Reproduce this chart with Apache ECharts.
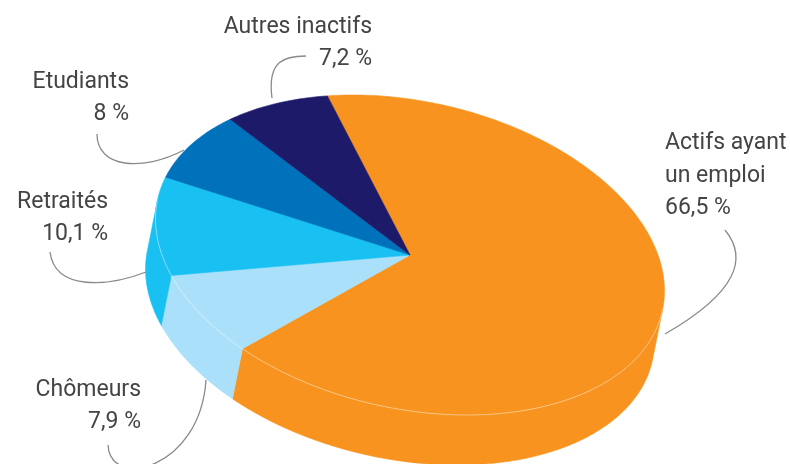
<!DOCTYPE html>
<html>
<head>
<meta charset="utf-8">
<script src="https://cdn.jsdelivr.net/npm/echarts@6/dist/echarts.min.js"></script>
<style>
  html, body { margin: 0; background: #fff; }
  #chart { width: 790px; height: 464px; }
</style>
</head>
<body>
<div id="chart"></div>
<script>
const categories = ['Actifs ayant\nun emploi', 'Chômeurs', 'Retraités', 'Etudiants', 'Autres inactifs']
const shares = [66.5, 7.9, 10.1, 8, 7.2]
const colors = ['#f7931e', '#aae0f9', '#19c1f2', '#0072bb', '#1e1a6a']

// where each label block sits (centre of the block) and how it is aligned
const labelPos = [
  { x: 665, y: 176, align: 'left' },
  { x: 141, y: 406, align: 'right' },
  { x: 108, y: 218, align: 'right' },
  { x: 129, y: 98, align: 'right' },
  { x: 372, y: 43, align: 'right' },
]
// leader curves: [x1, y1, cpx1, cpy1, cpx2, cpy2, x2, y2]
const leaders = [
  [725, 230, 748, 258, 738, 292, 665, 334],
  [206, 380, 200, 470, 110, 490, 108, 445],
  [50, 252, 55, 292, 110, 286, 146, 272],
  [97, 134, 97, 168, 142, 172, 184, 150],
  [272, 98, 267, 60, 285, 56, 306, 56],
]

// tilted disc geometry
const G = { cx: 410, cy: 255, a: 248, b: 57, c: 160, dx: -10, dy: 50, start: -96 }
const rad = d => d * Math.PI / 180

function pt(t, low) {
  const r = rad(t)
  return [
    G.cx + G.a * Math.cos(r) + G.b * Math.sin(r) + (low ? G.dx : 0),
    G.cy + G.c * Math.sin(r) + (low ? G.dy : 0),
  ]
}
function arc(t0, t1, low) {
  const out = []
  const n = Math.max(2, Math.ceil(Math.abs(t1 - t0)))
  for (let i = 0; i <= n; i++) out.push(pt(t0 + (t1 - t0) * i / n, low))
  return out
}

const total = shares.reduce((s, v) => s + v, 0)
const spans = []
let acc = G.start
shares.forEach(v => {
  const w = v / total * 360
  spans.push([acc, acc + w])
  acc += w
})

// front (visible) side of the wall
const tFront = Math.atan((G.b * G.dy - G.c * G.dx) / (G.a * G.dy)) * 180 / Math.PI
function frontPart(s, e) {
  for (const off of [0, 360, -360]) {
    const lo = Math.max(s, tFront + off), hi = Math.min(e, tFront + 180 + off)
    if (hi > lo) return [lo, hi]
  }
  return null
}

const fmt = v => String(v).replace('.', ',') + ' %'
const data = shares.map((v, i) => [i, v])

function renderWall(params, api) {
  const i = api.value(0)
  const f = frontPart(spans[i][0], spans[i][1])
  if (!f) return
  const pts = arc(f[0], f[1], false).concat(arc(f[1], f[0], true))
  return {
    type: 'polygon',
    shape: { points: pts },
    style: { fill: colors[i], stroke: colors[i], lineWidth: 0.6 },
  }
}

function renderTop(params, api) {
  const i = api.value(0)
  const [s, e] = spans[i]
  const children = [{
    type: 'polygon',
    shape: { points: [[G.cx, G.cy]].concat(arc(s, e, false)) },
    style: { fill: colors[i], stroke: colors[i], lineWidth: 0.6 },
  }]
  const f = frontPart(s, e)
  if (f) {
    children.push({
      type: 'polyline',
      shape: { points: arc(f[0], f[1], false) },
      style: { stroke: 'rgba(255,255,255,0.55)', lineWidth: 0.8, fill: null },
    })
  }
  const L = leaders[i]
  children.push({
    type: 'bezierCurve',
    shape: { x1: L[0], y1: L[1], cpx1: L[2], cpy1: L[3], cpx2: L[4], cpy2: L[5], x2: L[6], y2: L[7] },
    style: { stroke: '#8a8a8a', lineWidth: 1.3, fill: null },
  })
  const p = labelPos[i]
  children.push({
    type: 'text',
    x: p.x,
    y: p.y,
    style: {
      text: categories[i] + '\n' + fmt(api.value(1)),
      fill: '#444444',
      fontSize: 23,
      fontFamily: 'Roboto',
      lineHeight: 32.5,
      align: p.align,
      verticalAlign: 'middle',
    },
  })
  return { type: 'group', children }
}

const chart = echarts.init(document.getElementById('chart'))
chart.setOption({
  animation: false,
  series: [
    { type: 'custom', coordinateSystem: 'none', silent: true, data, renderItem: renderWall, z: 1 },
    { type: 'custom', coordinateSystem: 'none', silent: true, data, renderItem: renderTop, z: 2 },
  ],
})
</script>
</body>
</html>
